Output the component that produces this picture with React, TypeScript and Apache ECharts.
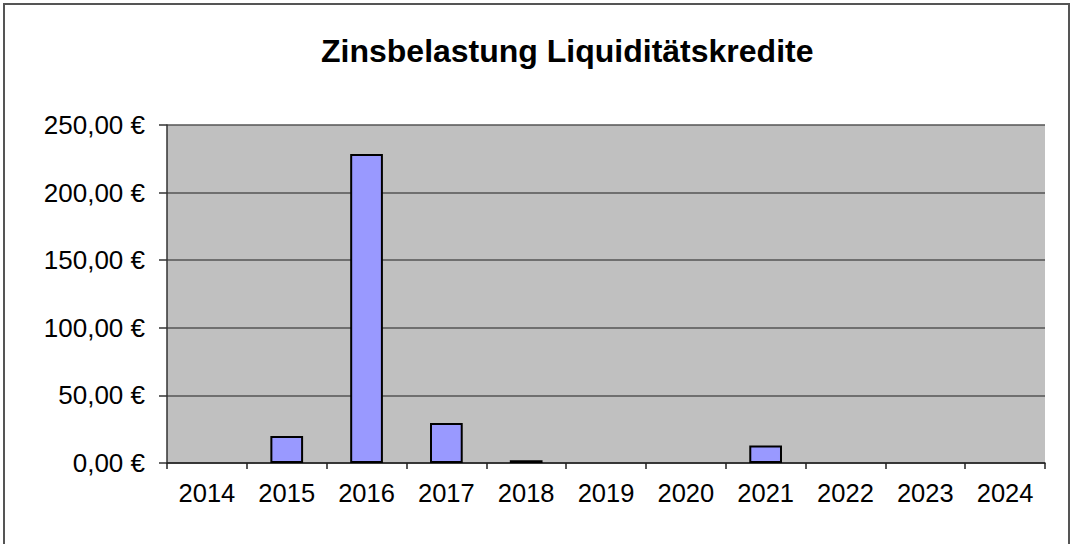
import React, { useEffect, useRef } from "react";
import * as echarts from "echarts";

const title = "Zinsbelastung Liquiditätskredite";
const years = ["2014", "2015", "2016", "2017", "2018", "2019", "2020", "2021", "2022", "2023", "2024"];
const interest = [0, 20, 228.5, 29.5, 2, 0, 0, 13, 0, 0, 0];
const yTicks = { min: 0, max: 250, interval: 50 };

export default function App() {
  const ref = useRef<HTMLDivElement>(null);
  useEffect(() => {
    if (!ref.current) return;
    const chart = echarts.init(ref.current, null, { renderer: "svg" });
    chart.setOption({
      animation: false,
      backgroundColor: "#ffffff",
      textStyle: { fontFamily: "Liberation Sans, Arial, sans-serif" },
      title: {
        text: title,
        left: 316,
        top: 30,
        textStyle: { fontSize: 32, fontWeight: "bold", color: "#000", fontFamily: "Liberation Sans, Arial, sans-serif" },
      },
      graphic: [
        {
          type: "rect",
          shape: { x: 4, y: 4, width: 1065, height: 560 },
          style: { fill: "none", stroke: "#555", lineWidth: 2 },
          silent: true,
        },
      ],
      grid: { left: 167, right: 26, top: 125, bottom: 81, show: true, backgroundColor: "#c0c0c0", borderWidth: 0 },
      xAxis: {
        type: "category",
        data: years,
        axisLine: { lineStyle: { color: "#222", width: 1.5 } },
        axisTick: { show: true, length: 6, alignWithLabel: false, lineStyle: { color: "#222", width: 1.5 } },
        axisLabel: { color: "#000", fontSize: 25.5, margin: 17 },
      },
      yAxis: {
        type: "value",
        min: yTicks.min,
        max: yTicks.max,
        interval: yTicks.interval,
        axisLine: { show: true, lineStyle: { color: "#333", width: 1.5 } },
        axisTick: { show: true, length: 8, lineStyle: { color: "#333", width: 1.5 } },
        splitLine: { show: true, lineStyle: { color: "#555", width: 1.5 } },
        axisLabel: {
          color: "#000",
          fontSize: 26,
          margin: 22,
          formatter: (v: number) => v.toFixed(2).replace(".", ",") + " €",
        },
      },
      series: [
        {
          type: "bar",
          data: interest.map((v) => (v === 0 ? { value: v, itemStyle: { borderWidth: 0 } } : v)),
          barWidth: "41%",
          itemStyle: { color: "#9999ff", borderColor: "#000", borderWidth: 2 },
        },
      ],
    });
    return () => chart.dispose();
  }, []);
  return <div ref={ref} style={{ position: "fixed", left: 0, top: 0, width: 1071, height: 544 }} />;
}
